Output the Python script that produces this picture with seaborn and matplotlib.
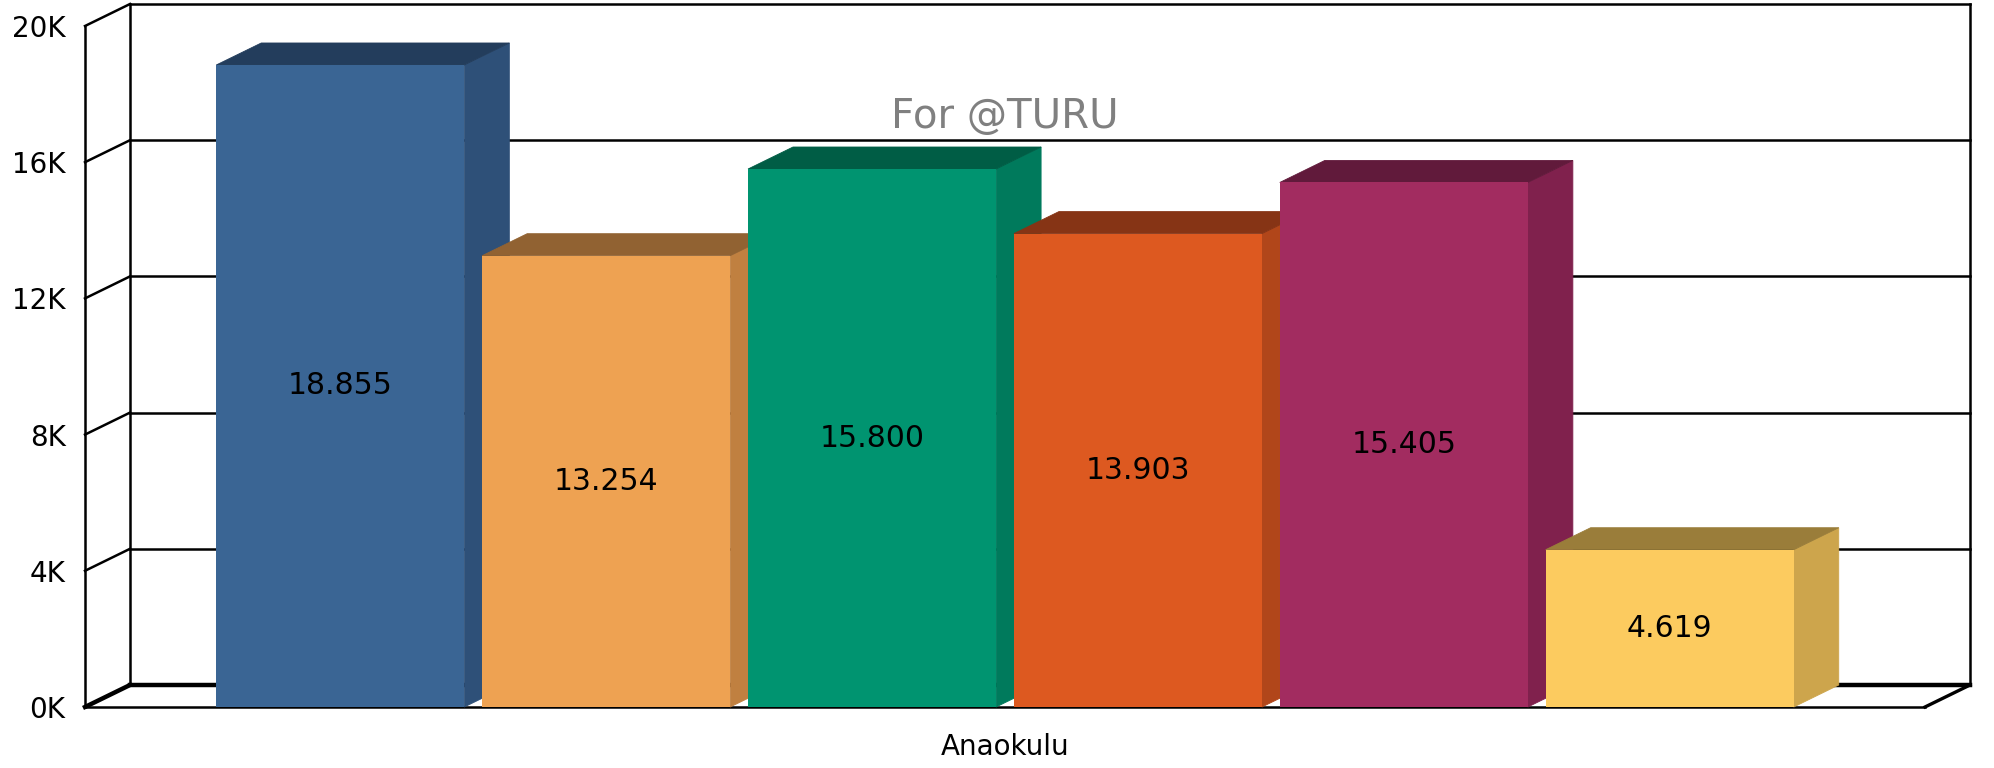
import matplotlib
matplotlib.use("Agg")
import matplotlib.pyplot as plt
import seaborn as sns
import pandas as pd
from matplotlib.patches import Polygon

# data
kategori = ["Anaokulu"]
seriler = ["Seri 1", "Seri 2", "Seri 3", "Seri 4", "Seri 5", "Seri 6"]
degerler = [18855, 13254, 15800, 13903, 15405, 4619]
y_ticks = [0, 4000, 8000, 12000, 16000, 20000]
y_labels = ["0K", "4K", "8K", "12K", "16K", "20K"]

# face colours: front, top, side
on_renk = ["#3A6594", "#EEA252", "#009470", "#DD5920", "#A22C60", "#FCCB5F"]
ust_renk = ["#233D5C", "#916232", "#005D45", "#863415", "#611A3B", "#9A7D3A"]
yan_renk = ["#2E5078", "#C08040", "#007A5C", "#B1461A", "#80214D", "#CDA54C"]

df = pd.DataFrame({
    "kategori": kategori * len(seriler),
    "seri": seriler,
    "deger": degerler,
})

sns.set_style("white")
plt.rcParams["font.family"] = ["DejaVu Sans"]
plt.rcParams["text.color"] = "black"
plt.rcParams["xtick.color"] = "black"
plt.rcParams["ytick.color"] = "black"

fig = plt.figure(figsize=(19.94, 7.68), dpi=100)
ax = fig.add_axes([85 / 1994, 61 / 768, 1840 / 1994, 681 / 768])

sns.barplot(data=df, x="kategori", y="deger", hue="seri", palette=on_renk,
            width=0.867, gap=0.067, legend=False, saturation=1, ax=ax)

ax.set_xlim(-0.5, 0.5)
ax.set_ylim(0, 20000)

# depth of the fake 3d box, in data units
dx = 45 / 1840 * 1.0
dy = 22 / 681 * 20000

lw = 1.8
kw = dict(color="black", clip_on=False, zorder=1, solid_capstyle="projecting")
# back wall and left wall
for t in y_ticks:
    w = 3.2 if t == 0 else lw
    ax.plot([-0.5 + dx, 0.5 + dx], [t + dy, t + dy], lw=w, **kw)
    ax.plot([-0.5, -0.5 + dx], [t, t + dy], lw=w, **kw)
ax.plot([-0.5, -0.5], [0, 20000], lw=lw, **kw)
ax.plot([-0.5 + dx, -0.5 + dx], [dy, 20000 + dy], lw=lw, **kw)
ax.plot([0.5 + dx, 0.5 + dx], [dy, 20000 + dy], lw=lw, **kw)
# floor
ax.plot([-0.5, 0.5], [0, 0], lw=lw, **kw)
ax.plot([0.5, 0.5 + dx], [0, dy], lw=2.4, **kw)

# 3d faces on top of seaborn bars
for i, bar in enumerate(ax.patches):
    x0 = bar.get_x()
    w = bar.get_width()
    h = bar.get_height()
    bar.set_edgecolor("none")
    bar.set_zorder(3 + 2 * i + 1)
    top = Polygon([(x0, h), (x0 + dx, h + dy), (x0 + w + dx, h + dy), (x0 + w, h)],
                  closed=True, facecolor=ust_renk[i], edgecolor=ust_renk[i], lw=0.6,
                  clip_on=False, zorder=3 + 2 * i)
    side = Polygon([(x0 + w, 0), (x0 + w + dx, dy), (x0 + w + dx, h + dy), (x0 + w, h)],
                   closed=True, facecolor=yan_renk[i], edgecolor=yan_renk[i], lw=0.6,
                   clip_on=False, zorder=3 + 2 * i)
    ax.add_patch(side)
    ax.add_patch(top)

# value labels
for c in ax.containers:
    etiket = [f"{v:,.0f}".replace(",", ".") for v in c.datavalues]
    lab = ax.bar_label(c, labels=etiket, label_type="center", fontsize=21.5, color="black")
    for t in lab:
        t.set_zorder(20)

ax.set_yticks(y_ticks)
ax.set_yticklabels(y_labels)
ax.tick_params(axis="y", length=0, pad=14, labelsize=20)
ax.tick_params(axis="x", length=0, pad=19, labelsize=20)
ax.set_xlabel("")
ax.set_ylabel("")
sns.despine(ax=ax, left=True, bottom=True)

ax.text(0.5, (707 - 117) / 681, "For @TURU", transform=ax.transAxes,
        ha="center", va="center", fontsize=29, color="#808080", zorder=30)

fig.savefig("out.png", dpi=100)
